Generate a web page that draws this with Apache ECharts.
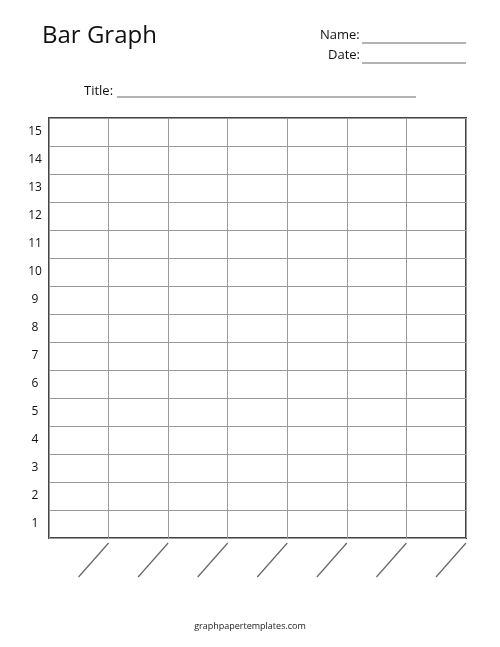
<!DOCTYPE html>
<html>
<head>
<meta charset="utf-8">
<script src="https://cdn.jsdelivr.net/npm/echarts@6/dist/echarts.min.js"></script>
<style>
  html, body { margin: 0; padding: 0; background: #fff; }
  #chart { width: 500px; height: 647px; }
</style>
</head>
<body>
<div id="chart"></div>
<script>
// blank template: 7 columns, rows 1..15
var categories = ['', '', '', '', '', '', ''];
var rowLabels = ['1', '2', '3', '4', '5', '6', '7', '8', '9', '10', '11', '12', '13', '14', '15'];
var values = [null, null, null, null, null, null, null];

var chart = echarts.init(document.getElementById('chart'));
var font = '"Open Sans", sans-serif';

var option = {
  backgroundColor: '#fff',
  animation: false,
  grid: { left: 49, right: 34, top: 118, bottom: 109, show: true, borderColor: '#444', borderWidth: 2 },
  xAxis: {
    type: 'category',
    data: categories,
    axisLine: { show: false },
    axisTick: { show: false },
    axisLabel: { show: false },
    splitLine: { show: true, interval: 0, lineStyle: { color: '#999', width: 1 } }
  },
  yAxis: {
    type: 'category',
    data: rowLabels,
    axisLine: { show: false },
    axisTick: { show: false },
    axisLabel: { color: '#111', fontSize: 12, fontFamily: font, margin: 10, align: 'center', padding: [4, 0, 0, -8] },
    splitLine: { show: true, interval: 0, lineStyle: { color: '#999', width: 1 } }
  },
  series: [{ type: 'bar', data: values }]
};
chart.setOption(option);

// header, blanks and slanted label lines
var g = [
  { type: 'text', left: 42, top: 24, style: { text: 'Bar Graph', fontSize: 24, fontFamily: font, fill: '#111' } },
  { type: 'text', left: 320, top: 29, style: { text: 'Name:', fontSize: 13, fontFamily: font, fill: '#111' } },
  { type: 'text', left: 328, top: 49, style: { text: 'Date:', fontSize: 13, fontFamily: font, fill: '#111' } },
  { type: 'text', left: 84, top: 85, style: { text: 'Title:', fontSize: 13, fontFamily: font, fill: '#111' } },
  { type: 'text', left: 'center', top: 622, style: { text: 'graphpapertemplates.com', fontSize: 9, fontFamily: font, fill: '#222' } },
  { type: 'line', shape: { x1: 362, y1: 43, x2: 466, y2: 43 }, style: { stroke: '#666', lineWidth: 1 } },
  { type: 'line', shape: { x1: 362, y1: 63, x2: 466, y2: 63 }, style: { stroke: '#666', lineWidth: 1 } },
  { type: 'line', shape: { x1: 117, y1: 97, x2: 416, y2: 97 }, style: { stroke: '#666', lineWidth: 1 } }
];
var half = (chart.convertToPixel({ xAxisIndex: 0 }, 1) - chart.convertToPixel({ xAxisIndex: 0 }, 0)) / 2;
for (var i = 0; i < categories.length; i++) {
  var xr = chart.convertToPixel({ xAxisIndex: 0 }, i) + half;
  g.push({ type: 'line', shape: { x1: xr, y1: 543, x2: xr - 30, y2: 577 }, style: { stroke: '#666', lineWidth: 1.2 } });
}
chart.setOption({ graphic: g });
</script>
</body>
</html>
